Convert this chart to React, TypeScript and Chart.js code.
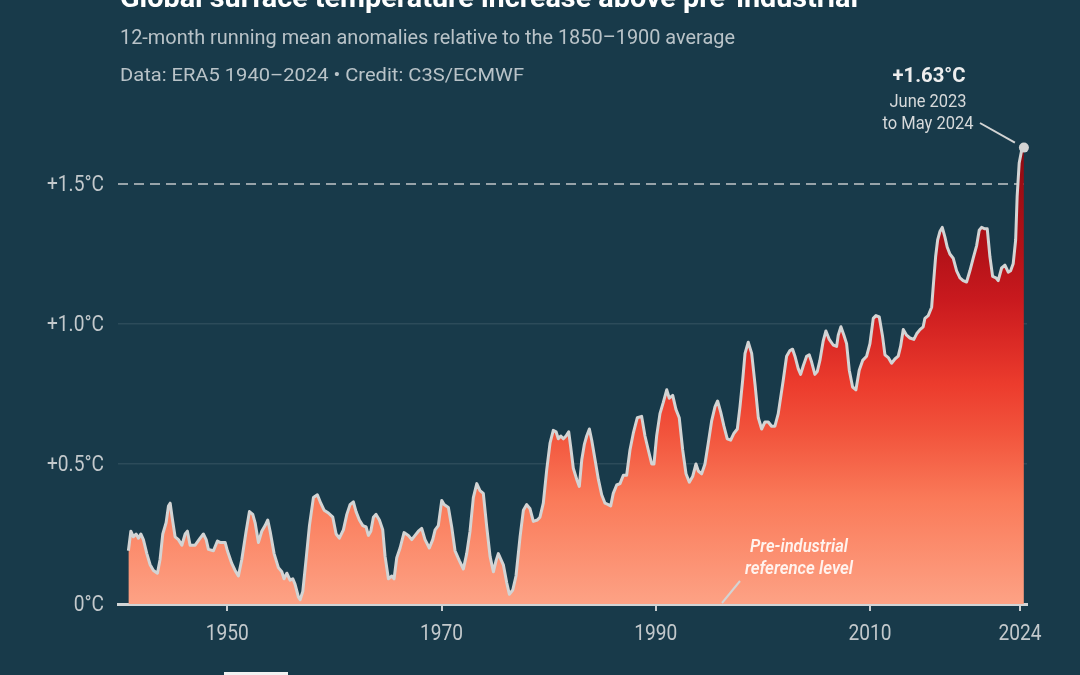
import React, { useEffect, useRef } from "react";
import { Chart, registerables } from "chart.js";

Chart.register(...registerables);

// ---- Data ----
const decimalYears = [
  1940.77, 1941.0, 1941.24, 1941.49, 1941.71, 1941.93, 1942.17, 1942.49, 1942.8, 1943.11,
  1943.48, 1943.73, 1943.98, 1944.29, 1944.51, 1944.67, 1944.85, 1945.13, 1945.44, 1945.76,
  1946.07, 1946.28, 1946.53, 1947.0, 1947.47, 1947.77, 1948.03, 1948.24, 1948.71, 1949.08,
  1949.33, 1949.8, 1950.01, 1950.42, 1950.73, 1951.04, 1951.36, 1951.76, 1952.07, 1952.38,
  1952.6, 1952.91, 1953.22, 1953.53, 1953.78, 1954.0, 1954.37, 1954.77, 1955.09, 1955.3,
  1955.56, 1955.86, 1956.12, 1956.33, 1956.64, 1956.8, 1957.05, 1957.36, 1957.67, 1958.04,
  1958.41, 1958.73, 1959.04, 1959.44, 1959.85, 1960.16, 1960.46, 1960.84, 1961.16, 1961.46,
  1961.77, 1962.02, 1962.33, 1962.65, 1962.96, 1963.17, 1963.4, 1963.64, 1963.89, 1964.2,
  1964.51, 1964.73, 1965.04, 1965.36, 1965.57, 1965.82, 1966.13, 1966.5, 1966.9, 1967.22,
  1967.53, 1967.84, 1968.15, 1968.46, 1968.86, 1969.18, 1969.4, 1969.7, 1970.02, 1970.24,
  1970.64, 1970.95, 1971.26, 1971.66, 1972.04, 1972.35, 1972.66, 1972.97, 1973.29, 1973.59,
  1973.9, 1974.22, 1974.53, 1974.84, 1975.09, 1975.3, 1975.77, 1976.09, 1976.33, 1976.65,
  1976.95, 1977.33, 1977.64, 1977.95, 1978.26, 1978.57, 1978.94, 1979.19, 1979.5, 1979.82,
  1980.13, 1980.43, 1980.69, 1980.9, 1981.13, 1981.37, 1981.62, 1981.87, 1982.06, 1982.3,
  1982.62, 1982.86, 1983.09, 1983.33, 1983.55, 1983.8, 1984.02, 1984.33, 1984.64, 1984.95,
  1985.26, 1985.57, 1985.79, 1986.03, 1986.35, 1986.66, 1986.97, 1987.28, 1987.59, 1987.9,
  1988.27, 1988.68, 1988.99, 1989.3, 1989.62, 1989.83, 1990.08, 1990.39, 1990.7, 1991.02,
  1991.26, 1991.58, 1991.88, 1992.19, 1992.51, 1992.82, 1993.13, 1993.44, 1993.75, 1993.97,
  1994.28, 1994.59, 1994.9, 1995.22, 1995.53, 1995.77, 1996.06, 1996.36, 1996.67, 1996.99,
  1997.3, 1997.61, 1997.86, 1998.11, 1998.33, 1998.63, 1998.95, 1999.26, 1999.57, 1999.88,
  2000.19, 2000.5, 2000.81, 2001.12, 2001.43, 2001.9, 2002.21, 2002.52, 2002.77, 2002.99,
  2003.3, 2003.52, 2003.76, 2004.08, 2004.32, 2004.54, 2004.85, 2005.07, 2005.32, 2005.63,
  2005.88, 2006.19, 2006.56, 2006.88, 2007.03, 2007.28, 2007.56, 2007.81, 2008.06, 2008.37,
  2008.68, 2008.99, 2009.31, 2009.68, 2009.99, 2010.3, 2010.55, 2010.86, 2011.17, 2011.39,
  2011.7, 2012.01, 2012.32, 2012.63, 2012.85, 2013.1, 2013.41, 2013.72, 2014.09, 2014.35,
  2014.66, 2014.96, 2015.12, 2015.43, 2015.75, 2015.9, 2016.12, 2016.31, 2016.52, 2016.74,
  2016.99, 2017.2, 2017.45, 2017.76, 2018.08, 2018.39, 2018.69, 2019.01, 2019.32, 2019.63,
  2019.95, 2020.19, 2020.41, 2020.72, 2020.94, 2021.19, 2021.44, 2021.75, 2021.96, 2022.28,
  2022.59, 2022.9, 2023.12, 2023.36, 2023.59, 2023.73, 2023.92, 2024.15, 2024.36,
];

const anomalies = [
  0.19, 0.26, 0.24, 0.25, 0.235, 0.25, 0.23, 0.18, 0.14, 0.12,
  0.11, 0.16, 0.25, 0.29, 0.35, 0.36, 0.31, 0.24, 0.23, 0.21,
  0.25, 0.26, 0.21, 0.21, 0.235, 0.25, 0.23, 0.195, 0.19, 0.225,
  0.22, 0.22, 0.19, 0.145, 0.12, 0.1, 0.16, 0.26, 0.33, 0.32,
  0.29, 0.22, 0.26, 0.28, 0.3, 0.26, 0.18, 0.13, 0.115, 0.09,
  0.11, 0.085, 0.09, 0.07, 0.025, 0.015, 0.045, 0.16, 0.28, 0.38,
  0.39, 0.36, 0.335, 0.325, 0.31, 0.25, 0.235, 0.265, 0.32, 0.355,
  0.365, 0.33, 0.3, 0.28, 0.275, 0.245, 0.26, 0.31, 0.32, 0.3,
  0.265, 0.17, 0.09, 0.1, 0.09, 0.165, 0.2, 0.255, 0.245, 0.23,
  0.245, 0.26, 0.27, 0.23, 0.2, 0.23, 0.265, 0.28, 0.37, 0.355,
  0.345, 0.275, 0.19, 0.155, 0.125, 0.18, 0.26, 0.38, 0.43, 0.405,
  0.395, 0.275, 0.17, 0.115, 0.155, 0.18, 0.14, 0.075, 0.035, 0.05,
  0.1, 0.24, 0.335, 0.355, 0.34, 0.295, 0.3, 0.31, 0.36, 0.48,
  0.575, 0.62, 0.615, 0.59, 0.6, 0.59, 0.6, 0.615, 0.56, 0.485,
  0.445, 0.42, 0.515, 0.57, 0.6, 0.625, 0.585, 0.515, 0.445, 0.39,
  0.36, 0.355, 0.35, 0.395, 0.425, 0.43, 0.46, 0.46, 0.55, 0.61,
  0.665, 0.67, 0.6, 0.55, 0.5, 0.5, 0.6, 0.68, 0.72, 0.765,
  0.735, 0.745, 0.695, 0.665, 0.55, 0.465, 0.435, 0.455, 0.5, 0.475,
  0.465, 0.5, 0.575, 0.655, 0.705, 0.725, 0.685, 0.635, 0.59, 0.585,
  0.61, 0.625, 0.705, 0.8, 0.895, 0.935, 0.895, 0.785, 0.665, 0.625,
  0.65, 0.65, 0.635, 0.635, 0.68, 0.8, 0.885, 0.905, 0.91, 0.885,
  0.84, 0.82, 0.85, 0.885, 0.89, 0.865, 0.82, 0.83, 0.87, 0.94,
  0.975, 0.945, 0.925, 0.92, 0.96, 0.99, 0.96, 0.93, 0.835, 0.775,
  0.765, 0.835, 0.87, 0.885, 0.93, 1.02, 1.03, 1.025, 0.955, 0.89,
  0.88, 0.86, 0.875, 0.885, 0.92, 0.98, 0.96, 0.95, 0.945, 0.965,
  0.98, 0.99, 1.02, 1.03, 1.06, 1.135, 1.24, 1.3, 1.33, 1.345,
  1.31, 1.275, 1.25, 1.235, 1.19, 1.165, 1.155, 1.15, 1.19, 1.235,
  1.28, 1.335, 1.345, 1.34, 1.34, 1.24, 1.17, 1.165, 1.155, 1.2,
  1.21, 1.185, 1.19, 1.215, 1.3, 1.455, 1.575, 1.62, 1.63,
];

const xTickYears = [1950, 1970, 1990, 2010, 2024];
const yTickValues = [0, 0.5, 1.0, 1.5];
const yTickLabels = ["0°C", "+0.5°C", "+1.0°C", "+1.5°C"];
const thresholdValue = 1.5;

const titleText = "Global surface temperature increase above pre-industrial";
const subtitleText = "12-month running mean anomalies relative to the 1850–1900 average";
const creditText = "Data: ERA5 1940–2024 • Credit: C3S/ECMWF";
const latestValueLabel = "+1.63°C";
const latestPeriodLines = ["June 2023", "to May 2024"];
const referenceLabelLines = ["Pre-industrial", "reference level"];

// ---- Styles ----
const BG = "#183a4a";
const LINE = "#d3d4d4";
const FONT = "Roboto, 'Noto Sans', sans-serif";
const SQUEEZE = 0.87;

type TextOpts = {
  size: number;
  weight?: number;
  italic?: boolean;
  color: string;
  align?: CanvasTextAlign;
  baseline?: CanvasTextBaseline;
  width?: number;
};

function drawText(ctx: CanvasRenderingContext2D, text: string, x: number, y: number, o: TextOpts) {
  ctx.save();
  ctx.font = `${o.italic ? "italic " : ""}${o.weight ?? 400} ${o.size}px ${FONT}`;
  const w = ctx.measureText(text).width;
  const sx = o.width ? o.width / w : SQUEEZE;
  ctx.translate(x, y);
  ctx.scale(sx, 1);
  ctx.textAlign = o.align ?? "left";
  ctx.textBaseline = o.baseline ?? "middle";
  ctx.fillStyle = o.color;
  ctx.fillText(text, 0, 0);
  ctx.restore();
}

const decorPlugin = {
  id: "decor",
  beforeDatasetsDraw(chart: any) {
    const { ctx, chartArea, scales } = chart;
    const y = scales.y.getPixelForValue(thresholdValue);
    const xEnd = scales.x.getPixelForValue(decimalYears[decimalYears.length - 1]);
    ctx.save();
    ctx.strokeStyle = "#97a3a9";
    ctx.lineWidth = 2;
    ctx.setLineDash([10, 6]);
    ctx.beginPath();
    ctx.moveTo(chartArea.left, y);
    ctx.lineTo(xEnd, y);
    ctx.stroke();
    ctx.restore();
  },
  afterDraw(chart: any) {
    const { ctx, scales } = chart;
    const xs = scales.x;
    const ys = scales.y;

    // Titles
    drawText(ctx, titleText, 120, 7, { size: 28, weight: 700, color: "#ffffff", baseline: "alphabetic", width: 738 });
    drawText(ctx, subtitleText, 120, 44, { size: 20, color: "#b9c3c8", baseline: "alphabetic", width: 615 });
    drawText(ctx, creditText, 120, 81, { size: 18.5, color: "#b9c3c8", baseline: "alphabetic", width: 404 });

    // Y tick labels
    yTickValues.forEach((v, i) => {
      drawText(ctx, yTickLabels[i], 104, ys.getPixelForValue(v) + 1.5, {
        size: 22, color: "#c3c9cc", align: "right",
      });
    });
    // X tick labels
    xTickYears.forEach((yr) => {
      drawText(ctx, String(yr), xs.getPixelForValue(yr), 634, { size: 22, color: "#c3c9cc", align: "center" });
    });

    // Latest value annotation
    const lastX = xs.getPixelForValue(decimalYears[decimalYears.length - 1]);
    const lastY = ys.getPixelForValue(anomalies[anomalies.length - 1]);
    drawText(ctx, latestValueLabel, 929, 77, { size: 21, weight: 700, color: "#eeeeee", align: "center", width: 73 });
    drawText(ctx, latestPeriodLines[0], 928, 102, { size: 18, color: "#d6d9da", align: "center", width: 77 });
    drawText(ctx, latestPeriodLines[1], 928, 124, { size: 18, color: "#d6d9da", align: "center", width: 91 });
    ctx.save();
    ctx.strokeStyle = "#d3d4d4";
    ctx.lineWidth = 2;
    ctx.beginPath();
    ctx.moveTo(980, 123);
    ctx.lineTo(lastX - 9, lastY - 5);
    ctx.stroke();
    ctx.restore();

    // Pre-industrial reference label
    const baseY = ys.getPixelForValue(0);
    drawText(ctx, referenceLabelLines[0], 799, 547, { size: 18.5, weight: 600, italic: true, color: "#fff3ee", align: "center", width: 98 });
    drawText(ctx, referenceLabelLines[1], 799, 569, { size: 18.5, weight: 600, italic: true, color: "#fff3ee", align: "center", width: 108 });
    ctx.save();
    ctx.strokeStyle = "#d3d4d4";
    ctx.lineWidth = 2;
    ctx.beginPath();
    ctx.moveTo(740, 581);
    ctx.lineTo(722, baseY - 1);
    ctx.stroke();
    ctx.restore();
  },
};

export default function App() {
  const canvasRef = useRef<HTMLCanvasElement | null>(null);

  useEffect(() => {
    const canvas = canvasRef.current;
    if (!canvas) return;
    const last = decimalYears.length - 1;
    const points = decimalYears.map((x, i) => ({ x, y: anomalies[i] }));

    const chart = new Chart(canvas, {
      type: "line",
      data: {
        datasets: [
          {
            data: points,
            borderColor: LINE,
            borderWidth: 3,
            borderJoinStyle: "round",
            tension: 0,
            clip: false,
            fill: "origin",
            pointRadius: (c: any) => (c.dataIndex === last ? 5 : 0),
            pointHoverRadius: 0,
            pointBackgroundColor: LINE,
            pointBorderWidth: 0,
            backgroundColor: (c: any) => {
              const ch = c.chart;
              const { ctx, chartArea, scales } = ch;
              if (!chartArea) return "rgba(0,0,0,0)";
              const y0 = scales.y.getPixelForValue(0);
              const y1 = scales.y.getPixelForValue(1.63);
              const g = ctx.createLinearGradient(0, y0, 0, y1);
              g.addColorStop(0, "#fda285");
              g.addColorStop(0.23, "#fa7a59");
              g.addColorStop(0.37, "#f2553d");
              g.addColorStop(0.48, "#ec3c2d");
              g.addColorStop(0.6, "#d62523");
              g.addColorStop(0.67, "#c8191e");
              g.addColorStop(0.77, "#b31218");
              g.addColorStop(1, "#8e0a12");
              return g;
            },
          } as any,
        ],
      },
      options: {
        responsive: false,
        animation: false,
        devicePixelRatio: 1,
        events: [],
        layout: { padding: { left: 0, right: 53, top: 128, bottom: 0 } },
        plugins: { legend: { display: false }, tooltip: { enabled: false } },
        scales: {
          x: {
            type: "linear",
            min: 1939.8,
            max: 2024.65,
            afterFit: (s: any) => {
              s.height = 71;
            },
            afterBuildTicks: (s: any) => {
              s.ticks = xTickYears.map((v) => ({ value: v }));
            },
            ticks: { display: false },
            grid: {
              drawOnChartArea: false,
              drawTicks: true,
              tickLength: 7,
              color: "#c9cdcf",
              lineWidth: 2,
            },
            border: { display: true, color: "#d2d5d6", width: 3 },
          },
          y: {
            type: "linear",
            min: 0,
            max: 1.7,
            afterFit: (s: any) => {
              s.width = 118;
            },
            afterBuildTicks: (s: any) => {
              s.ticks = yTickValues.map((v) => ({ value: v }));
            },
            ticks: { display: false },
            grid: {
              drawTicks: false,
              lineWidth: 1.5,
              color: (c: any) =>
                c.tick && (c.tick.value === 0.5 || c.tick.value === 1.0)
                  ? "rgba(255,255,255,0.09)"
                  : "rgba(0,0,0,0)",
            },
            border: { display: false },
          },
        },
      },
      plugins: [decorPlugin],
    });

    return () => chart.destroy();
  }, []);

  return (
    <div
      style={{
        position: "absolute",
        left: 0,
        top: 0,
        width: 1080,
        height: 675,
        background: BG,
        overflow: "hidden",
      }}
    >
      <canvas ref={canvasRef} width={1080} height={675} style={{ width: 1080, height: 675, display: "block" }} />
      <div
        style={{
          position: "absolute",
          left: 224,
          top: 672,
          width: 64,
          height: 3,
          background: "#f2f2f2",
        }}
      />
    </div>
  );
}
